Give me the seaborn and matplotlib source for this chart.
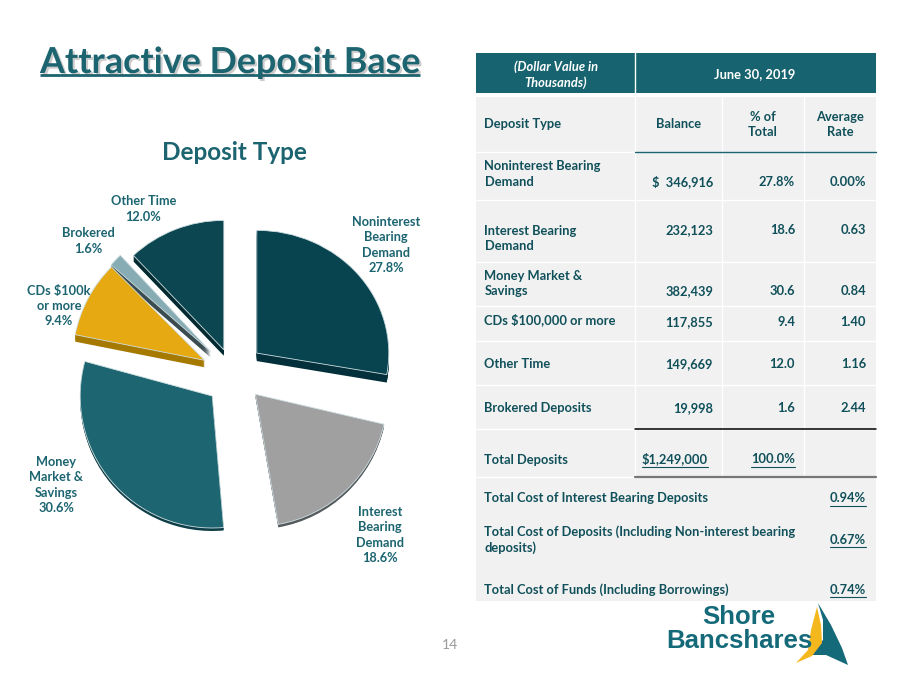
import matplotlib
matplotlib.use("Agg")
import matplotlib.pyplot as plt
import matplotlib.patheffects as pe
from matplotlib.patches import Rectangle, Polygon
from matplotlib.transforms import Affine2D
import seaborn as sns

# ---------- data ----------
categories = ["Noninterest Bearing Demand", "Interest Bearing Demand", "Money Market & Savings",
              "CDs $100k or more", "Brokered", "Other Time"]
shares = [27.8, 18.6, 30.6, 9.4, 1.6, 12.0]
pie_labels = ["Noninterest\nBearing\nDemand\n27.8%", "Interest\nBearing\nDemand\n18.6%",
              "Money\nMarket &\nSavings\n30.6%", "CDs $100k\nor more\n9.4%",
              "Brokered\n1.6%", "Other Time\n12.0%"]
row_names = ["Noninterest Bearing\nDemand", "Interest Bearing\nDemand", "Money Market &\nSavings",
             "CDs $100,000 or more", "Other Time", "Brokered Deposits"]
balances = ["$  346,916", "232,123", "382,439", "117,855", "149,669", "19,998"]
pct_total = ["27.8%", "18.6", "30.6", "9.4", "12.0", "1.6"]
avg_rate = ["0.00%", "0.63", "0.84", "1.40", "1.16", "2.44"]
cost_names = ["Total Cost of Interest Bearing Deposits",
              "Total Cost of Deposits (Including Non-interest bearing\ndeposits)",
              "Total Cost of Funds (Including Borrowings)"]
cost_values = ["0.94%", "0.67%", "0.74%"]

# ---------- style ----------
top_colors = ["#07444f", "#a0a0a0", "#1d6570", "#e6a911", "#87acb3", "#0c4751"]
side_colors = ["#03303a", "#555a5c", "#0e3e47", "#a67a00", "#3a4c50", "#022a30"]
TEAL = "#1b6470"
DARK = "#10505a"
sns.set_theme(style="white")
plt.rcParams["font.family"] = ["Lato", "DejaVu Sans"]
plt.rcParams["font.weight"] = "bold"

fig = plt.figure(figsize=(9, 6.75), dpi=100)
ax = fig.add_axes([0, 0, 1, 1])
H = 675


def Y(p):
    return H - p


# ---------- pie ----------
# the original is a tilted 3-D pie: each slice keeps its data-driven angular size, while
# these style settings imitate its perspective (slice turn, vertical squeeze, extrusion).
CX, CY, R = 233, 373, 132
explode = [31, 31, 31, 31, 31, 25]
turn = [0, 3, 8, 4, 0, 0]
squeeze = [0.93, 1, 1, 1, 1, 0.98]
depths = [8, 3, 3, 7, 6, 6]


def shape(wedges):
    for w, t, s in zip(wedges, turn, squeeze):
        w.set_theta1(w.theta1 - t)
        w.set_theta2(w.theta2 - t)
        cx, cy = w.center
        w.set_transform(Affine2D().translate(-cx, -cy).scale(1, s).translate(cx, cy) + ax.transData)


for depth in range(max(depths), 0, -1):
    side, _ = ax.pie(shares, colors=side_colors, startangle=90, counterclock=False, explode=explode,
                     radius=R, center=(CX, Y(CY + depth)), wedgeprops=dict(linewidth=0))
    shape(side)
    for w, d in zip(side, depths):
        w.set_visible(depth <= d)
top, _ = ax.pie(shares, colors=top_colors, startangle=90, counterclock=False, explode=explode,
                radius=R, center=(CX, Y(CY)), wedgeprops=dict(edgecolor="#cfdfe2", linewidth=0.6))
shape(top)
ax.set_xlim(0, 900)
ax.set_ylim(0, H)
ax.set_aspect("auto")

label_pos = [(386, 245), (380, 535), (56, 485), (59, 306), (88, 241), (143.5, 209)]
for txt, (px, py) in zip(pie_labels, label_pos):
    ax.text(px, Y(py), txt, ha="center", va="center", color=TEAL, fontsize=9.2,
            linespacing=1.33)

# ---------- titles ----------
ax.text(40, Y(62.5), "Attractive Deposit Base", ha="left", va="center", color=TEAL, fontsize=25.8,
        path_effects=[pe.withSimplePatchShadow(offset=(1.5, -1.5), alpha=0.3, shadow_rgbFace="#555555")])
ax.plot([40, 420], [Y(75), Y(75)], color=TEAL, lw=2, solid_capstyle="butt")
ax.text(234, Y(152.5), "Deposit Type", ha="center", va="center", color=TEAL, fontsize=17.5)
ax.text(450, Y(645), "14", ha="center", va="center", color="#9a9a9a", fontsize=10, fontweight="normal")

# ---------- table ----------
XL, X1, X2, X3, XR = 476, 635, 722, 804, 876
row_edges = [97, 152, 200, 262, 306, 341, 385, 429, 477, 516, 559, 601]
ax.add_patch(Rectangle((XL, Y(93)), XR - XL, 40, fc="#176470", ec="none"))
ax.plot([X1, X1], [Y(53), Y(93)], color="white", lw=1)
for t_edge, b_edge in zip(row_edges[:-1], row_edges[1:]):
    ax.add_patch(Rectangle((XL, Y(b_edge)), XR - XL, b_edge - t_edge, fc="#f1f1f1", ec="none"))
for e in row_edges[1:9]:
    ax.plot([XL, XR], [Y(e), Y(e)], color="white", lw=1)
for x in (X1, X2, X3):
    ax.plot([x, x], [Y(97), Y(477)], color="white", lw=1)
ax.plot([X1, XR], [Y(152), Y(152)], color=TEAL, lw=1)
ax.plot([X1, XR], [Y(429), Y(429)], color="black", lw=1.1)
ax.plot([X1, XR], [Y(477), Y(477)], color="#777777", lw=1.6)

TS = 9.3
ax.text(556, Y(74.5), "(Dollar Value in\nThousands)", ha="center", va="center", color="white",
        fontsize=TS, style="italic", linespacing=1.33)
ax.text(755, Y(74.5), "June 30, 2019", ha="center", va="center", color="white", fontsize=TS)
ax.text(484.5, Y(124.5), "Deposit Type", ha="left", va="center", color=DARK, fontsize=TS)
ax.text(679, Y(124.5), "Balance", ha="center", va="center", color=DARK, fontsize=TS)
ax.text(763, Y(124.5), "% of\nTotal", ha="center", va="center", color=DARK, fontsize=TS, linespacing=1.33)
ax.text(840, Y(124.5), "Average\nRate", ha="center", va="center", color=DARK, fontsize=TS, linespacing=1.33)

name_y = [174, 238.5, 283.5, 319.5, 364.5, 408.5]
value_y = [182, 230, 291, 322, 364, 408]
for nm, ny, vy, b, p, r in zip(row_names, name_y, value_y, balances, pct_total, avg_rate):
    ax.text(484.5, Y(ny), nm, ha="left", va="center", color=DARK, fontsize=TS, linespacing=1.33)
    ax.text(713, Y(vy), b, ha="right", va="center", color=DARK, fontsize=TS)
    ax.text(795, Y(vy), p, ha="right", va="center", color=DARK, fontsize=TS)
    ax.text(866, Y(vy), r, ha="right", va="center", color=DARK, fontsize=TS)


def underlined(x, py, s):
    t = ax.text(x, Y(py), s, ha="right", va="center", color=DARK, fontsize=TS)
    bb = t.get_window_extent(fig.canvas.get_renderer())
    ax.plot([bb.x0, bb.x1], [Y(py + 7.5)] * 2, color=DARK, lw=0.8)


ax.text(484.5, Y(459.5), "Total Deposits", ha="left", va="center", color=DARK, fontsize=TS)
underlined(708, 459, "$1,249,000")
underlined(795, 459, "100.0%")
cost_name_y = [498.5, 539.5, 589.5]
for nm, ny, v in zip(cost_names, cost_name_y, cost_values):
    ax.text(484.5, Y(ny), nm, ha="left", va="center", color=DARK, fontsize=TS, linespacing=1.33)
    underlined(866, ny, v)

# ---------- logo ----------
LOGO = "#156a7a"
ax.text(739, Y(617), "Shore", ha="center", va="center", color=LOGO, fontsize=18.5,
        family="Liberation Sans", fontweight="bold")
ax.text(739.5, Y(641), "Bancshares", ha="center", va="center", color=LOGO, fontsize=18.5,
        family="Liberation Sans", fontweight="bold")
sail_teal = [(818, 603), (831, 625), (842, 648), (848, 665), (826, 655), (808, 655), (823, 640), (823, 620)]
sail_gold = [(817, 607), (821, 625), (822, 643), (812, 656), (796, 663), (808, 650), (811, 630)]
ax.add_patch(Polygon([(x, Y(y)) for x, y in sail_teal], closed=True, fc=LOGO, ec="none"))
ax.add_patch(Polygon([(x, Y(y)) for x, y in sail_gold], closed=True, fc="#f5b71e", ec="none"))
ax.axis("off")
fig.savefig("out.png", dpi=100)
